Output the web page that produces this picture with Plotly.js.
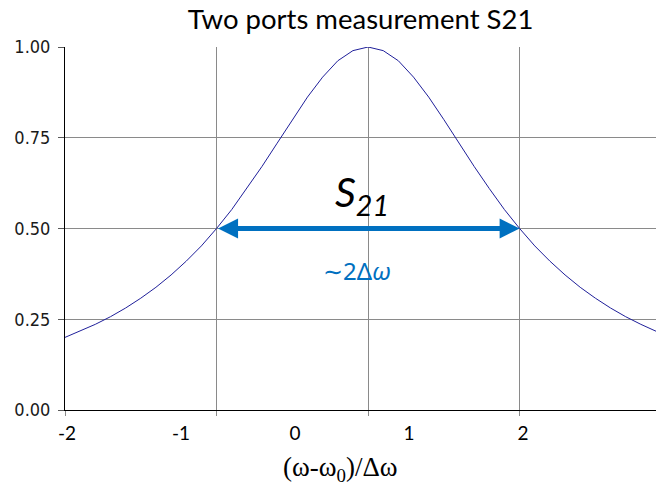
<!DOCTYPE html>
<html>
<head>
<meta charset="utf-8">
<script src="https://cdn.plot.ly/plotly-3.0.1.min.js"></script>
<style>
  html, body { margin: 0; padding: 0; background: #ffffff; }
  #chart { width: 656px; height: 486px; }
</style>
</head>
<body>
<div id="chart"></div>
<script>
// Detuning along the plot, in gridline units; resonance sits on the middle gridline.
const detuning = [
  0.0, 0.1, 0.2, 0.3, 0.4, 0.5, 0.6, 0.7, 0.8, 0.9,
  1.0, 1.1, 1.2, 1.3, 1.4, 1.5, 1.6, 1.7, 1.8, 1.9,
  2.0, 2.1, 2.2, 2.3, 2.4, 2.5, 2.6, 2.7, 2.8, 2.9,
  3.0, 3.1, 3.2, 3.3, 3.4, 3.5, 3.6, 3.7, 3.8, 3.9
];
// Normalised transmission |S21|
const s21 = [
  0.200, 0.217, 0.236, 0.257, 0.281, 0.308, 0.338, 0.372, 0.410, 0.452,
  0.500, 0.552, 0.610, 0.671, 0.735, 0.800, 0.862, 0.917, 0.962, 0.990,
  1.000, 0.990, 0.962, 0.917, 0.862, 0.800, 0.735, 0.671, 0.610, 0.552,
  0.500, 0.452, 0.410, 0.372, 0.338, 0.308, 0.281, 0.257, 0.236, 0.217
];
// Vertical gridlines / tick marks
const gridValues = [0, 1, 2, 3];
// Labels of the normalised frequency axis
const freqTickValues = [-2, -1, 0, 1, 2];
const freqTickLabels = ['-2', '-1', '0', '1', '2'];
// Transmission ticks
const yTickValues = [0, 0.25, 0.5, 0.75, 1.0];

// Half-maximum level and the two points where the curve crosses it
const halfLevel = 0.5;
const halfIdx = s21.reduce((acc, v, i) => (v === halfLevel ? acc.concat(i) : acc), []);
const xLeft = detuning[halfIdx[0]];
const xRight = detuning[halfIdx[halfIdx.length - 1]];
const peakIdx = s21.indexOf(Math.max(...s21));
const xPeak = detuning[peakIdx];

const gridColor = '#8a8a8a';
const blue = '#0070c0';

const traces = [
  {
    x: detuning,
    y: s21,
    type: 'scatter',
    mode: 'lines',
    line: { color: '#1f1f9a', width: 1 },
    hoverinfo: 'skip',
    showlegend: false
  },
  {
    // carries the labelled frequency axis
    x: freqTickValues,
    y: freqTickValues.map(() => null),
    xaxis: 'x2',
    type: 'scatter',
    mode: 'markers',
    hoverinfo: 'skip',
    showlegend: false
  }
];

const layout = {
  width: 656,
  height: 486,
  margin: { l: 65, r: 0, t: 47, b: 76 },
  paper_bgcolor: '#ffffff',
  plot_bgcolor: '#ffffff',
  showlegend: false,
  title: {
    text: 'Two ports measurement S21',
    font: { family: 'Lato, "Open Sans", sans-serif', size: 27.5, color: '#000000' },
    xref: 'paper', x: 0.5, xanchor: 'center',
    yref: 'container', y: 1 - 19 / 486, yanchor: 'middle'
  },
  xaxis: {
    range: [0, 3.9],
    tickmode: 'array',
    tickvals: gridValues,
    showticklabels: false,
    ticks: 'outside',
    ticklen: 5,
    tickcolor: gridColor,
    showgrid: true,
    gridcolor: gridColor,
    gridwidth: 1,
    showline: true,
    linecolor: '#000000',
    linewidth: 1,
    zeroline: false,
    fixedrange: true
  },
  xaxis2: {
    overlaying: 'x',
    anchor: 'y',
    side: 'bottom',
    range: [-2.0175, 3.167],
    tickmode: 'array',
    tickvals: freqTickValues,
    ticktext: freqTickLabels,
    ticks: '',
    showgrid: false,
    showline: false,
    zeroline: false,
    tickfont: { family: 'Lato, "Open Sans", sans-serif', size: 19, color: '#000000' },
    ticklabelstandoff: 10,
    fixedrange: true
  },
  yaxis: {
    range: [0, 1],
    tickmode: 'array',
    tickvals: yTickValues,
    tickformat: '.2f',
    ticks: 'outside',
    ticklen: 6,
    tickcolor: '#595959',
    showgrid: true,
    gridcolor: gridColor,
    gridwidth: 1,
    showline: true,
    linecolor: '#000000',
    linewidth: 1,
    zeroline: false,
    tickfont: { family: '"Liberation Sans Narrow", "DejaVu Sans Condensed", sans-serif', size: 18, color: '#1a1a1a' },
    ticklabelstandoff: 4,
    fixedrange: true
  },
  annotations: [
    {
      // frequency axis title
      x: 0.4, xref: 'x2', y: -0.163, yref: 'paper',
      text: '(ω-ω<sub>0</sub>)/Δω',
      showarrow: false,
      font: { family: '"Liberation Serif", serif', size: 27, color: '#000000' },
      xanchor: 'center', yanchor: 'middle'
    },
    {
      // full width at half maximum
      x: xRight, y: halfLevel, xref: 'x', yref: 'y',
      ax: xLeft, ay: halfLevel, axref: 'x', ayref: 'y',
      text: '',
      showarrow: true,
      arrowside: 'end+start',
      arrowhead: 2,
      startarrowhead: 2,
      arrowsize: 0.8,
      startarrowsize: 0.8,
      arrowwidth: 5,
      arrowcolor: blue,
      standoff: 0,
      startstandoff: 0
    },
    {
      x: xPeak - 0.04, y: 0.595, xref: 'x', yref: 'y',
      text: '<i>S<sub>21</sub></i>',
      showarrow: false,
      font: { family: 'Lato, "Open Sans", sans-serif', size: 41, color: '#000000' },
      xanchor: 'center', yanchor: 'middle'
    },
    {
      x: xPeak - 0.07, y: 0.385, xref: 'x', yref: 'y',
      text: '∼2Δ<i>ω</i>',
      showarrow: false,
      font: { family: '"Noto Sans", sans-serif', size: 24, color: blue },
      xanchor: 'center', yanchor: 'middle'
    }
  ]
};

Plotly.newPlot('chart', traces, layout, { staticPlot: true, displayModeBar: false });
</script>
</body>
</html>
